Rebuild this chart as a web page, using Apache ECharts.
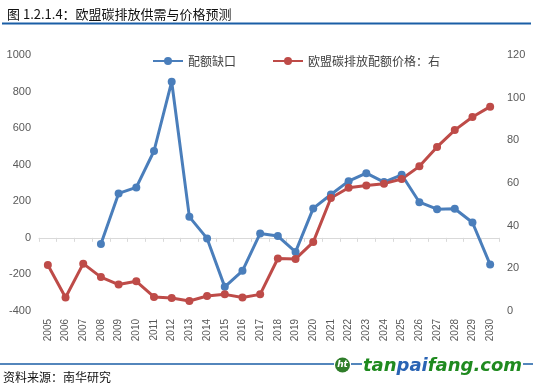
<!DOCTYPE html>
<html>
<head>
<meta charset="utf-8">
<script src="https://cdn.jsdelivr.net/npm/echarts@6/dist/echarts.min.js"></script>
<style>
html,body{margin:0;padding:0;background:#fff;}
#chart{width:533px;height:385px;}
</style>
</head>
<body>
<div id="chart"></div>
<script>
var titleText = '图 1.2.1.4：欧盟碳排放供需与价格预测';
var sourceText = '资料来源：南华研究';
var years = ['2005','2006','2007','2008','2009','2010','2011','2012','2013','2014','2015','2016','2017','2018','2019','2020','2021','2022','2023','2024','2025','2026','2027','2028','2029','2030'];
var gapName = '配额缺口';
var priceName = '欧盟碳排放配额价格：右';
var gapValues = [null,null,null,-34,243,276,475,854,115,-3,-268,-180,24,10,-77,161,237,310,354,305,345,195,157,159,84,-146];
var priceValues = [21.6,6.3,22.2,15.9,12.4,13.9,6.6,6.1,4.7,7.0,7.8,6.3,7.8,24.6,24.4,32.3,53,57.8,58.8,59.7,61.9,67.8,76.9,84.8,90.9,95.8];
var leftAxis = {min:-400, max:1000, interval:200};
var rightAxis = {min:0, max:120, interval:20};

var cjk = '"Noto Sans CJK SC", "Noto Sans", sans-serif';
var chart = echarts.init(document.getElementById('chart'), null, {renderer:'canvas'});
var blue = '#4a7ebb', red = '#be4b48';
chart.setOption({
  animation:false,
  backgroundColor:'#fff',
  title:{text:titleText, left:2, top:3, textStyle:{fontSize:13, fontWeight:'normal', color:'#111', fontFamily:cjk}},
  legend:{
    left:147, top:50, itemGap:36, itemWidth:30, itemHeight:10,
    textStyle:{fontSize:12, color:'#404040', fontFamily:cjk},
    data:[gapName, priceName]
  },
  grid:{left:39, right:34, top:55, bottom:74, containLabel:false},
  xAxis:[
    {type:'category', data:years, position:'bottom', boundaryGap:true,
     axisLine:{show:false}, axisTick:{show:false},
     axisLabel:{rotate:90, margin:8, color:'#595959', fontSize:10, fontFamily:'"Liberation Sans", sans-serif', interval:0}},
    {type:'category', data:years, position:'bottom', boundaryGap:true,
     axisLine:{show:true, onZero:true, onZeroAxisIndex:0, lineStyle:{color:'#d9d9d9', width:1}},
     axisTick:{show:true, length:4, interval:0, lineStyle:{color:'#d9d9d9'}},
     axisLabel:{show:false}, splitLine:{show:false}}
  ],
  yAxis:[
    {type:'value', min:leftAxis.min, max:leftAxis.max, interval:leftAxis.interval, position:'left',
     axisLine:{show:false}, axisTick:{show:false}, splitLine:{show:false},
     axisLabel:{margin:8, color:'#595959', fontSize:11, fontFamily:'"Liberation Sans", sans-serif',
       formatter:function(v){return String(v);}}},
    {type:'value', min:rightAxis.min, max:rightAxis.max, interval:rightAxis.interval, position:'right',
     axisLine:{show:false}, axisTick:{show:false}, splitLine:{show:false},
     axisLabel:{margin:8, color:'#595959', fontSize:11, fontFamily:'"Liberation Sans", sans-serif'}}
  ],
  series:[
    {name:gapName, type:'line', xAxisIndex:0, yAxisIndex:0, data:gapValues,
     symbol:'circle', symbolSize:8, connectNulls:false,
     lineStyle:{color:blue, width:3}, itemStyle:{color:blue}},
    {name:priceName, type:'line', xAxisIndex:0, yAxisIndex:1, data:priceValues,
     symbol:'circle', symbolSize:8,
     lineStyle:{color:red, width:3}, itemStyle:{color:red}}
  ],
  graphic:[
    {type:'line', shape:{x1:2, y1:23.5, x2:531, y2:23.5}, style:{stroke:'#1a5ea6', lineWidth:2}},
    {type:'line', shape:{x1:0, y1:364, x2:334, y2:364}, style:{stroke:'#1a5ea6', lineWidth:1.5}},
    {type:'line', shape:{x1:351, y1:364, x2:362, y2:364}, style:{stroke:'#1a5ea6', lineWidth:1.5}},
    {type:'line', shape:{x1:523, y1:364, x2:533, y2:364}, style:{stroke:'#1a5ea6', lineWidth:1.5}},
    {type:'circle', shape:{cx:342.5, cy:365, r:7.5}, style:{fill:'#2f7d2a'}},
    {type:'text', x:342.5, y:365, style:{text:'ht', fill:'#fff', font:'italic bold 9px "DejaVu Sans"', align:'center', verticalAlign:'middle'}},
    {type:'text', x:363, y:366, style:{
      text:'{g|tan}{b|pai}{g|fang.com}', align:'left', verticalAlign:'middle',
      rich:{
        g:{fill:'#1f8a1f', font:'italic bold 18px "DejaVu Sans"'},
        b:{fill:'#2a64b4', font:'italic bold 18px "DejaVu Sans"'}
      }}},
    {type:'text', x:3, y:377, style:{text:sourceText, fill:'#111', font:'12px "Noto Sans CJK SC"', align:'left', verticalAlign:'middle'}}
  ]
});
</script>
</body>
</html>
